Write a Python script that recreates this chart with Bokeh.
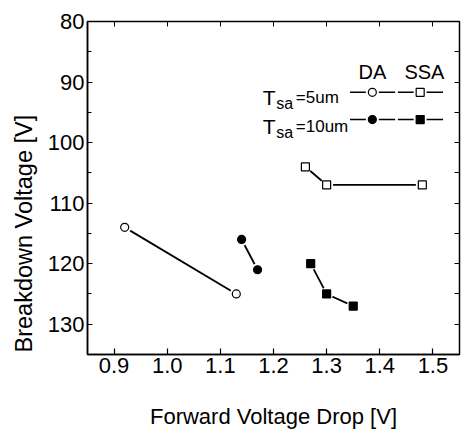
from bokeh.plotting import figure
from bokeh.models import Range1d, LinearAxis, FixedTicker, PrintfTickFormatter, Title
from bokeh.core.properties import value
from bokeh.embed import file_html
from bokeh.resources import INLINE

FONT = "Liberation Sans"

# ---- data ----
x_ticks = [0.9, 1.0, 1.1, 1.2, 1.3, 1.4, 1.5]
y_ticks = [80, 90, 100, 110, 120, 130]
y_minor = [85, 95, 105, 115, 125, 135]

da5_x = [0.92, 1.13]
da5_y = [114, 125]
da10_x = [1.14, 1.17]
da10_y = [116, 121]
ssa5_x = [1.26, 1.30, 1.48]
ssa5_y = [104, 107, 107]
ssa10_x = [1.27, 1.30, 1.35]
ssa10_y = [120, 125, 127]

p = figure(width=463, height=436, output_backend="svg", toolbar_location=None,
           x_range=Range1d(0.85, 1.55), y_range=Range1d(135, 80),
           min_border_left=87, min_border_right=4, min_border_top=21,
           min_border_bottom=82)
p.background_fill_color = "white"
p.border_fill_color = "white"
p.outline_line_color = "black"
p.outline_line_width = 1.5
p.xgrid.visible = False
p.ygrid.visible = False

xa = p.xaxis[0]
xa.ticker = FixedTicker(ticks=x_ticks, minor_ticks=[])
xa.formatter = PrintfTickFormatter(format="%.1f")
xa.axis_label = "Forward Voltage Drop [V]"
xa.axis_label_text_font = FONT
xa.axis_label_text_font_size = "22px"
xa.axis_label_text_font_style = "normal"
xa.axis_label_text_color = "black"
xa.axis_label_standoff = 28
xa.major_label_text_font = FONT
xa.major_label_text_font_size = "22px"
xa.major_label_text_color = "black"
xa.major_label_standoff = 3
xa.major_tick_in = 6
xa.major_tick_out = 0
xa.minor_tick_in = 0
xa.minor_tick_out = 0
xa.axis_line_color = "black"
xa.axis_line_width = 1.5
xa.major_tick_line_color = "black"
xa.major_tick_line_width = 1.2

ya = p.yaxis[0]
ya.ticker = FixedTicker(ticks=y_ticks, minor_ticks=y_minor)
ya.major_label_text_font = FONT
ya.major_label_text_font_size = "22px"
ya.major_label_text_color = "black"
ya.major_label_standoff = 3
ya.major_tick_in = 5
ya.major_tick_out = 0
ya.minor_tick_in = 4
ya.minor_tick_out = 0
ya.axis_line_color = "black"
ya.axis_line_width = 1.5
ya.major_tick_line_color = "black"
ya.minor_tick_line_color = "black"
ya.major_tick_line_width = 1.2
ya.minor_tick_line_width = 1.0

top = LinearAxis(ticker=FixedTicker(ticks=x_ticks, minor_ticks=[]),
                 major_label_text_font_size="1px", major_label_text_color=None,
                 major_label_standoff=0,
                 major_tick_in=5, major_tick_out=0, minor_tick_in=0, minor_tick_out=0,
                 axis_line_color="black", major_tick_line_color="black")
p.add_layout(top, "above")
right = LinearAxis(ticker=FixedTicker(ticks=y_ticks, minor_ticks=y_minor),
                   major_label_text_font_size="1px", major_label_text_color=None,
                   major_label_standoff=0,
                   major_tick_in=5, major_tick_out=0, minor_tick_in=5, minor_tick_out=0,
                   axis_line_color="black", major_tick_line_color="black",
                   minor_tick_line_color="black")
p.add_layout(right, "right")

ylab = Title(text="Breakdown Voltage [V]", align="left", text_font=FONT,
             text_font_size="23.5px", text_font_style="normal", text_color="black",
             standoff=16, offset=2)
p.add_layout(ylab, "left")

# ---- series ----
LW = 1.8
for xs, ys in [(da5_x, da5_y), (da10_x, da10_y), (ssa5_x, ssa5_y), (ssa10_x, ssa10_y)]:
    p.line(xs, ys, line_color="black", line_width=LW)
    p.scatter(xs, ys, size=13, marker="circle", fill_color="white", line_color=None)

p.scatter(da5_x, da5_y, marker="circle", size=8, fill_color="white", line_color="black", line_width=1.2)
p.scatter(da10_x, da10_y, marker="circle", size=8, fill_color="black", line_color="black", line_width=1.2)
p.scatter(ssa5_x, ssa5_y, marker="square", size=8, fill_color="white", line_color="black", line_width=1.2)
p.scatter(ssa10_x, ssa10_y, marker="square", size=8, fill_color="black", line_color="black", line_width=1.2)

# ---- legend ----
p.text(x=[1.386, 1.484], y=[88.4, 88.4], text=["DA", "SSA"], text_align="center",
       text_baseline="alphabetic", text_font=value(FONT), text_font_size="20px",
       text_color="black")
p.text(x=[1.180, 1.180], y=[92.6, 97.4], text=["T", "T"], text_align="left",
       text_baseline="alphabetic", text_font=value(FONT), text_font_size="21px",
       text_color="black")
p.text(x=[1.205, 1.205], y=[93.6, 98.4], text=["sa", "sa"], text_align="left",
       text_baseline="alphabetic", text_font=value(FONT), text_font_size="16px",
       text_color="black")
p.text(x=[1.242, 1.242], y=[92.6, 97.4], text=["=5um", "=10um"], text_align="left",
       text_baseline="alphabetic", text_font=value(FONT), text_font_size="17px",
       text_color="black")
p.segment(x0=[1.344, 1.434, 1.344, 1.434], y0=[91.7, 91.7, 96.2, 96.2],
          x1=[1.429, 1.519, 1.429, 1.519], y1=[91.7, 91.7, 96.2, 96.2],
          line_color="black", line_width=1.5)
p.scatter([1.386, 1.476, 1.386, 1.476], [91.7, 91.7, 96.2, 96.2], size=13,
          marker="circle", fill_color="white", line_color=None)
p.scatter([1.386], [91.7], marker="circle", size=8, fill_color="white", line_color="black", line_width=1.2)
p.scatter([1.476], [91.7], marker="square", size=8, fill_color="white", line_color="black", line_width=1.2)
p.scatter([1.386], [96.2], marker="circle", size=8, fill_color="black", line_color="black", line_width=1.2)
p.scatter([1.476], [96.2], marker="square", size=8, fill_color="black", line_color="black", line_width=1.2)

open("out.html", "w").write(file_html(p, INLINE))
